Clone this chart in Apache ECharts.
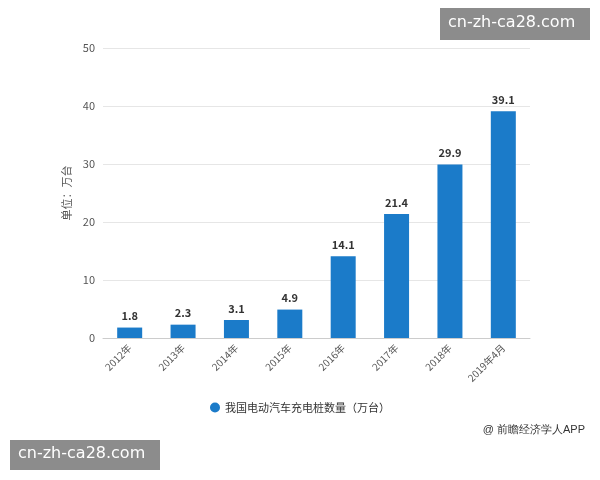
<!DOCTYPE html>
<html><head><meta charset="utf-8">
<script src="https://cdn.jsdelivr.net/npm/echarts@6/dist/echarts.min.js"></script>
<style>html,body{margin:0;padding:0;background:#fff}#c{width:600px;height:480px}</style>
</head><body><div id="c"></div>
<script>
const categories=['2012年','2013年','2014年','2015年','2016年','2017年','2018年','2019年4月'];
const values=[1.8,2.3,3.1,4.9,14.1,21.4,29.9,39.1];
const seriesName='我国电动汽车充电桩数量（万台）';
const chart=echarts.init(document.getElementById('c'));
chart.setOption({
  animation:false,
  textStyle:{fontFamily:'Noto Sans CJK SC'},
  grid:{left:103,right:70,top:48,bottom:142},
  legend:{bottom:62,left:'center',icon:'circle',itemWidth:10,itemHeight:10,textStyle:{fontSize:11,color:'#333'},data:[seriesName]},
  xAxis:{type:'category',data:categories,axisTick:{show:false},axisLine:{lineStyle:{color:'#ccc'}},
    axisLabel:{rotate:45,fontSize:10,color:'#555',interval:0}},
  yAxis:{type:'value',min:0,max:50,interval:10,name:'单位：万台',nameLocation:'middle',nameGap:28,
    nameTextStyle:{fontSize:11,color:'#555'},axisLabel:{fontSize:11,color:'#555'},
    splitLine:{lineStyle:{color:'#e6e6e6'}},axisLine:{show:false},axisTick:{show:false}},
  series:[{name:seriesName,type:'bar',data:values,barWidth:25,itemStyle:{color:'#1b7bc9'},
    label:{show:true,position:'top',fontSize:11,fontWeight:'bold',color:'#333',distance:6}}],
  graphic:[
    {type:'text',right:15,top:424,style:{text:'@ 前瞻经济学人APP',fontSize:11,fill:'#333',font:'11px "Noto Sans CJK SC"'}},
    {type:'group',left:440,top:8,children:[{type:'rect',shape:{width:150,height:32},style:{fill:'rgba(120,120,120,0.85)'}},
      {type:'text',left:8,top:7,style:{text:'cn-zh-ca28.com',fill:'#fff',font:'16px "DejaVu Sans"'}}]},
    {type:'group',left:10,top:440,children:[{type:'rect',shape:{width:150,height:30},style:{fill:'rgba(120,120,120,0.85)'}},
      {type:'text',left:8,top:6,style:{text:'cn-zh-ca28.com',fill:'#fff',font:'16px "DejaVu Sans"'}}]}
  ]
});
</script></body></html>
